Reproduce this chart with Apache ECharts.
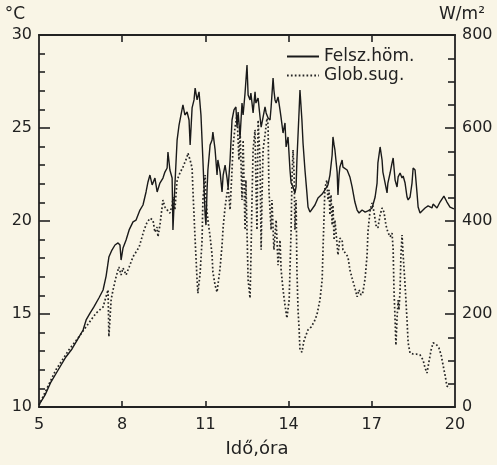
<!DOCTYPE html>
<html>
<head>
<meta charset="utf-8">
<script src="https://cdn.jsdelivr.net/npm/echarts@6/dist/echarts.min.js"></script>
<style>
  html, body { margin: 0; padding: 0; background: #f9f5e6; }
  #chart { width: 497px; height: 465px; }
</style>
</head>
<body>
<div id="chart"></div>
<script>
// Surface temperature (°C) over the day, hour of day
const tempTime = [5.00,5.22,5.43,5.69,5.97,6.19,6.44,6.59,6.70,6.84,6.98,7.16,7.31,7.42,7.52,7.63,7.74,7.85,7.92,7.96,8.03,8.14,8.25,8.39,8.50,8.64,8.75,8.86,8.93,9.00,9.08,9.18,9.26,9.36,9.47,9.54,9.62,9.65,9.72,9.80,9.83,9.90,9.98,10.05,10.12,10.19,10.26,10.34,10.41,10.45,10.52,10.59,10.63,10.70,10.77,10.84,10.91,10.99,11.02,11.06,11.09,11.17,11.24,11.27,11.35,11.42,11.45,11.53,11.60,11.64,11.71,11.78,11.82,11.89,11.96,12.03,12.10,12.14,12.18,12.25,12.32,12.36,12.43,12.50,12.54,12.61,12.64,12.72,12.79,12.82,12.90,12.97,13.01,13.08,13.15,13.19,13.26,13.33,13.37,13.44,13.47,13.51,13.55,13.62,13.69,13.73,13.80,13.87,13.91,13.98,14.05,14.09,14.16,14.23,14.27,14.30,14.38,14.41,14.48,14.52,14.59,14.66,14.70,14.77,14.84,14.95,15.06,15.21,15.31,15.42,15.49,15.57,15.60,15.64,15.67,15.75,15.78,15.82,15.85,15.93,15.96,16.03,16.11,16.21,16.29,16.39,16.47,16.54,16.65,16.76,16.86,17.01,17.12,17.19,17.22,17.30,17.37,17.40,17.48,17.55,17.58,17.66,17.73,17.77,17.84,17.91,17.95,18.02,18.09,18.13,18.20,18.27,18.31,18.38,18.45,18.49,18.56,18.63,18.67,18.74,18.81,18.92,19.03,19.17,19.21,19.35,19.46,19.60,19.71,19.82,19.96];
const tempValues = [10.11,10.65,11.34,11.99,12.69,13.12,13.76,14.14,14.68,15.05,15.38,15.86,16.29,17.04,18.06,18.44,18.71,18.82,18.71,17.90,18.55,18.98,19.52,19.95,20.05,20.59,20.86,21.56,22.10,22.47,21.94,22.31,21.56,22.04,22.31,22.63,22.85,23.71,22.74,22.31,19.52,21.94,24.35,25.16,25.70,26.24,25.70,25.86,25.43,24.09,26.08,26.51,27.15,26.51,26.94,25.70,23.28,20.32,19.78,21.67,22.74,24.09,24.35,24.78,23.82,22.47,23.28,22.63,21.56,22.47,23.01,22.31,21.77,23.28,25.43,25.97,26.13,25.05,25.86,24.52,26.34,25.70,26.88,28.39,26.77,26.51,26.88,25.81,26.94,26.34,26.61,25.59,25.05,25.59,26.13,25.81,25.54,25.43,26.13,27.69,27.04,26.51,26.34,26.67,25.97,25.54,24.73,25.27,23.98,24.52,22.74,22.04,21.83,21.51,21.83,23.28,25.97,27.04,25.43,24.19,22.74,21.51,20.75,20.48,20.54,20.86,21.24,21.45,21.67,21.94,22.47,23.55,24.52,24.09,23.82,22.63,21.40,22.47,22.90,23.28,22.90,22.85,22.74,22.37,21.83,21.02,20.59,20.43,20.59,20.48,20.54,20.70,21.29,22.04,23.12,23.98,23.28,22.63,22.04,21.51,22.04,22.58,23.12,23.39,22.20,21.83,22.37,22.58,22.31,22.42,22.04,21.29,21.13,21.29,22.04,22.85,22.74,21.51,20.75,20.43,20.54,20.70,20.81,20.70,20.91,20.70,21.02,21.34,21.02,20.75,20.65];

// Global radiation (W/m²) over the day, hour of day
const radTime = [5.00,5.14,5.61,6.08,6.44,6.80,7.06,7.31,7.49,7.52,7.56,7.60,7.67,7.78,7.88,7.96,8.03,8.14,8.25,8.39,8.61,8.79,8.89,9.00,9.11,9.18,9.26,9.29,9.36,9.47,9.54,9.62,9.72,9.80,9.83,9.90,9.98,10.08,10.19,10.34,10.37,10.45,10.52,10.55,10.63,10.70,10.73,10.81,10.88,10.91,10.99,11.02,11.09,11.17,11.24,11.27,11.35,11.42,11.45,11.53,11.60,11.64,11.71,11.78,11.82,11.89,11.96,12.00,12.07,12.14,12.21,12.25,12.32,12.36,12.43,12.46,12.54,12.61,12.64,12.68,12.72,12.79,12.82,12.86,12.90,12.97,13.01,13.04,13.08,13.15,13.22,13.26,13.29,13.37,13.40,13.47,13.55,13.62,13.69,13.73,13.80,13.87,13.94,14.02,14.05,14.09,14.12,14.16,14.20,14.23,14.27,14.30,14.34,14.38,14.41,14.48,14.56,14.63,14.70,14.81,14.92,15.02,15.13,15.21,15.24,15.28,15.31,15.38,15.42,15.46,15.49,15.53,15.57,15.60,15.64,15.67,15.75,15.78,15.85,15.93,15.96,16.03,16.14,16.21,16.29,16.39,16.47,16.54,16.61,16.68,16.76,16.83,16.86,16.94,17.01,17.08,17.15,17.22,17.30,17.37,17.44,17.51,17.58,17.66,17.73,17.77,17.80,17.84,17.87,17.91,17.95,17.98,18.02,18.05,18.09,18.13,18.20,18.27,18.31,18.38,18.49,18.59,18.74,18.85,18.92,18.99,19.06,19.14,19.21,19.32,19.42,19.50,19.57,19.64,19.71,19.82];
const radValues = [4,22,80,123,151,181,202,215,252,151,148,230,252,280,301,284,299,284,301,323,344,381,396,406,402,376,387,366,391,445,430,424,417,434,452,424,488,503,516,538,546,531,514,467,359,273,245,288,359,445,499,445,402,366,327,290,262,247,262,299,348,387,430,460,473,424,510,563,602,628,531,596,445,574,381,488,273,234,316,445,553,596,488,381,617,531,338,445,553,585,621,606,467,381,445,338,402,305,359,295,252,219,191,230,295,381,488,553,499,381,445,295,209,166,123,118,144,155,166,172,183,198,230,273,338,413,471,488,445,467,413,456,391,434,359,402,348,327,363,359,338,338,323,295,277,256,237,252,241,247,277,327,376,424,439,419,391,385,413,428,419,391,376,366,374,338,252,187,133,191,230,209,252,327,370,327,262,187,138,116,114,114,112,101,84,73,97,123,138,135,127,112,90,69,45,41];

// Axis ticks and labels
const hourLabels = [5, 8, 11, 14, 17, 20];
const hourTicks = [8, 11, 14, 17];

const ink = '#222222';
const font = 'DejaVu Sans';

const chart = echarts.init(document.getElementById('chart'), null, { renderer: 'canvas' });

const pairs = (xs, ys) => xs.map((x, i) => [x, ys[i]]);
const tickStyle = { color: ink, width: 1.6 };

chart.setOption({
  backgroundColor: '#f9f5e6',
  animation: false,
  textStyle: { fontFamily: font, color: ink },
  grid: { left: 39, right: 42, top: 35, bottom: 58, containLabel: false },
  legend: {
    orient: 'vertical',
    left: 286,
    top: 47,
    itemWidth: 32,
    itemHeight: 12,
    itemGap: 0,
    padding: 0,
    itemStyle: { opacity: 0 },
    textStyle: { fontFamily: font, fontSize: 17, color: ink, lineHeight: 19 },
    data: ['Felsz.höm.', 'Glob.sug.']
  },
  xAxis: [
    {
      type: 'value',
      position: 'bottom',
      min: 5,
      max: 20,
      name: 'Idő,óra',
      nameLocation: 'middle',
      nameGap: 33,
      nameTextStyle: { fontFamily: font, fontSize: 18, color: ink, padding: [0, 0, 0, 20] },
      axisLine: { show: true, lineStyle: { color: ink, width: 1.8 } },
      axisTick: { show: true, inside: true, length: 6, customValues: hourTicks, lineStyle: tickStyle },
      axisLabel: { customValues: hourLabels, fontFamily: font, fontSize: 16, color: ink, margin: 10 },
      splitLine: { show: false }
    },
    {
      type: 'value',
      position: 'top',
      min: 5,
      max: 20,
      axisLine: { show: true, onZero: false, lineStyle: { color: ink, width: 2 } },
      axisTick: { show: true, inside: true, length: 7, customValues: hourTicks, lineStyle: tickStyle },
      axisLabel: { show: false },
      splitLine: { show: false }
    }
  ],
  yAxis: [
    {
      type: 'value',
      position: 'left',
      min: 10,
      max: 30,
      interval: 5,
      name: '°C',
      nameLocation: 'end',
      nameGap: 12,
      nameTextStyle: { fontFamily: font, fontSize: 17, color: ink, align: 'right', padding: [0, 14, 0, 0] },
      axisLine: { show: true, lineStyle: { color: ink, width: 1.8 } },
      axisTick: { show: true, inside: true, length: 11, lineStyle: tickStyle },
      minorTick: { show: true, splitNumber: 5, length: 6, lineStyle: tickStyle },
      axisLabel: { fontFamily: font, fontSize: 16, color: ink, margin: 7 },
      splitLine: { show: false }
    },
    {
      type: 'value',
      position: 'right',
      min: 0,
      max: 800,
      interval: 200,
      name: 'W/m²',
      nameLocation: 'end',
      nameGap: 12,
      nameTextStyle: { fontFamily: font, fontSize: 17, color: ink, align: 'center', padding: [0, 0, 0, 14] },
      axisLine: { show: true, lineStyle: { color: ink, width: 1.8 } },
      axisTick: { show: true, inside: true, length: 10, lineStyle: tickStyle },
      minorTick: { show: true, splitNumber: 4, length: 7, lineStyle: tickStyle },
      axisLabel: { fontFamily: font, fontSize: 16, color: ink, margin: 7 },
      splitLine: { show: false }
    }
  ],
  series: [
    {
      name: 'Felsz.höm.',
      type: 'line',
      xAxisIndex: 0,
      yAxisIndex: 0,
      symbol: 'none',
      data: pairs(tempTime, tempValues),
      lineStyle: { color: '#1a1a1a', width: 1.4 },
      itemStyle: { color: '#1a1a1a' },
      z: 3
    },
    {
      name: 'Glob.sug.',
      type: 'line',
      xAxisIndex: 0,
      yAxisIndex: 1,
      symbol: 'none',
      data: pairs(radTime, radValues),
      lineStyle: { color: '#262626', width: 1.7, type: [1.7, 2.2] },
      itemStyle: { color: '#262626' },
      z: 2
    }
  ]
});
</script>
</body>
</html>
